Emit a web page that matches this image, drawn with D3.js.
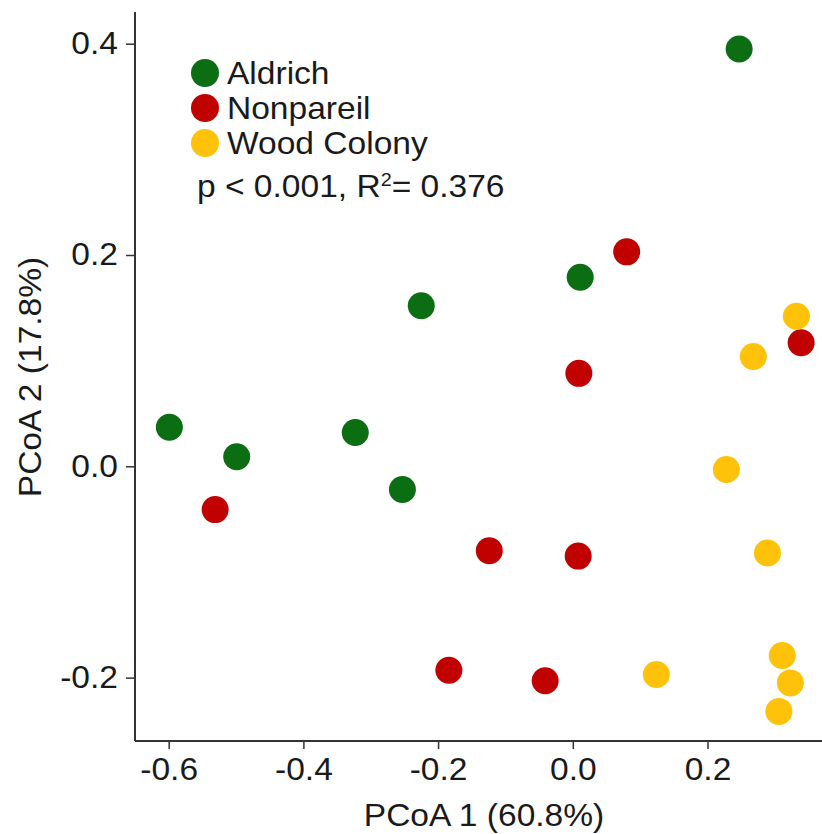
<!DOCTYPE html>
<html>
<head>
<meta charset="utf-8">
<script src="https://cdn.jsdelivr.net/npm/d3@7"></script>
<style>
  body { margin: 0; background: #fff; }
  svg text { font-family: "Liberation Sans", Arial, sans-serif; fill: #1a1a1a; }
</style>
</head>
<body>
<div id="chart"></div>
<script>
// groups and colours
var groups = ['Aldrich', 'Nonpareil', 'Wood Colony'];
var colors = ['#0b6e12', '#c10000', '#ffc20a'];

// PCoA coordinates
var aldrichX = [0.247, 0.011, -0.225, -0.599, -0.499, -0.323, -0.253];
var aldrichY = [0.395, 0.179, 0.152, 0.037, 0.009, 0.032, -0.022];

var nonpareilX = [0.080, 0.009, 0.339, -0.531, -0.124, 0.008, -0.184, -0.041];
var nonpareilY = [0.203, 0.088, 0.117, -0.041, -0.080, -0.085, -0.193, -0.203];

var woodX = [0.332, 0.268, 0.228, 0.289, 0.124, 0.311, 0.323, 0.306];
var woodY = [0.142, 0.104, -0.003, -0.082, -0.197, -0.179, -0.205, -0.232];

var xTicks = [-0.6, -0.4, -0.2, 0.0, 0.2];
var yTicks = [-0.2, 0.0, 0.2, 0.4];

var W = 822, H = 834;
var FS = 30.5, SX = 1.1;   // the original type is a bit wide
var svg = d3.select('#chart').append('svg').attr('width', W).attr('height', H);

var x = d3.scaleLinear().domain([-0.65, 0.37]).range([135, 822]);
var y = d3.scaleLinear().domain([-0.26, 0.43]).range([741, 12]);

function pts(xs, ys, g) {
  return xs.map(function (v, i) { return {x: v, y: ys[i], g: g}; });
}
var points = pts(aldrichX, aldrichY, 0)
  .concat(pts(nonpareilX, nonpareilY, 1))
  .concat(pts(woodX, woodY, 2));

var fmt = function (d) { return d3.format('.1f')(d).replace('\u2212', '-'); };

// stretch a text horizontally around its anchor point
function widen(sel) {
  sel.each(function () {
    var t = d3.select(this);
    var tx = +t.attr('x') || 0, ty = +t.attr('y') || 0;
    t.attr('x', 0).attr('y', 0)
      .attr('transform', 'translate(' + tx + ',' + ty + ') scale(' + SX + ',1)');
  });
}

// axes
var xAxis = svg.append('g').attr('transform', 'translate(0,741)')
  .call(d3.axisBottom(x).tickValues(xTicks).tickFormat(fmt).tickSize(8).tickPadding(9));
var yAxis = svg.append('g').attr('transform', 'translate(135,0)')
  .call(d3.axisLeft(y).tickValues(yTicks).tickFormat(fmt).tickSize(9).tickPadding(8));

[xAxis, yAxis].forEach(function (a) {
  a.select('.domain').attr('stroke', '#333').attr('stroke-width', 2);
  a.selectAll('.tick line').attr('stroke', '#333').attr('stroke-width', 1.5);
  a.selectAll('.tick text').style('font-size', FS + 'px').attr('fill', '#1a1a1a').call(widen);
});
xAxis.select('.domain').attr('d', 'M135,0H822');
yAxis.select('.domain').attr('d', 'M0,12V741');

// points
svg.append('g').selectAll('circle').data(points).enter().append('circle')
  .attr('cx', function (d) { return x(d.x); })
  .attr('cy', function (d) { return y(d.y); })
  .attr('r', 13.5)
  .attr('fill', function (d) { return colors[d.g]; });

// legend
var legend = svg.append('g');
groups.forEach(function (g, i) {
  var cy = 73 + i * 35;
  legend.append('circle').attr('cx', 205).attr('cy', cy).attr('r', 14).attr('fill', colors[i]);
  legend.append('text').attr('x', 227).attr('y', cy + 11).style('font-size', FS + 'px').text(g).call(widen);
});
var stat = legend.append('text').attr('x', 197).attr('y', 197).style('font-size', FS + 'px');
stat.append('tspan').text('p < 0.001, R');
stat.append('tspan').attr('dy', -11).style('font-size', '18px').text('2');
stat.append('tspan').attr('dy', 11).text('= 0.376');
stat.call(widen);

// axis titles
svg.append('text').attr('x', 484).attr('y', 826).attr('text-anchor', 'middle')
  .style('font-size', FS + 'px').text('PCoA 1 (60.8%)').call(widen);
svg.append('text').attr('transform', 'translate(41,377) rotate(-90) scale(' + SX + ',1)')
  .attr('text-anchor', 'middle')
  .style('font-size', FS + 'px').text('PCoA 2 (17.8%)');
</script>
</body>
</html>
